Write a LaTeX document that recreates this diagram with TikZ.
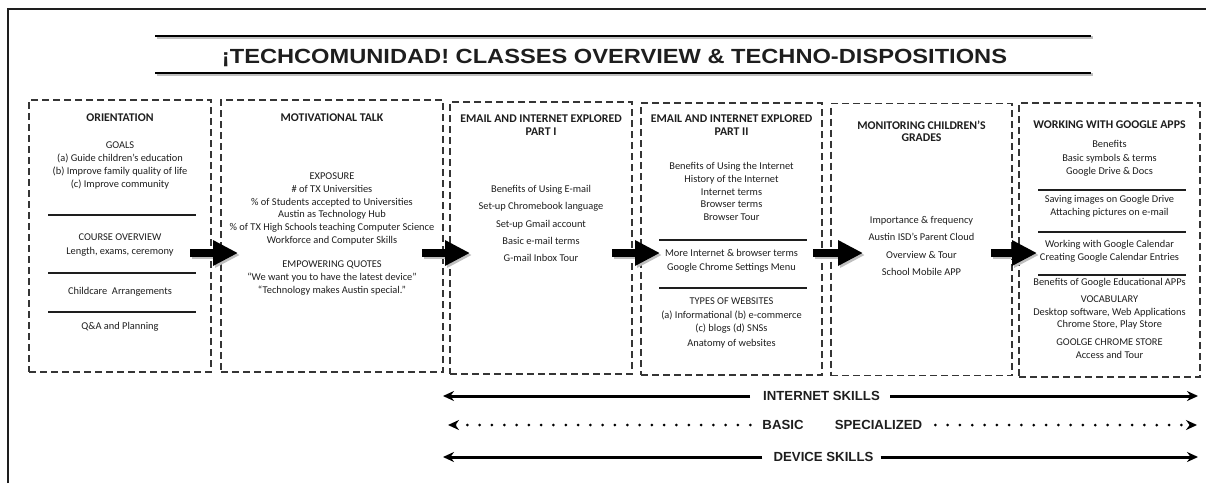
\documentclass[tikz,border=0pt]{standalone}
\usepackage{fontspec}
\usepackage{graphicx}
\setmainfont{Carlito}
\newfontfamily\arialf{Liberation Sans}
\usetikzlibrary{arrows.meta,calc}
\definecolor{ink}{HTML}{1E1E1E}
\begin{document}
\begin{tikzpicture}[x=1pt,y=-1pt,
  dbox/.style={draw=ink!90,line width=1.2pt,dash pattern=on 7pt off 4pt,minimum height=272pt,inner sep=0pt},
  body/.style={inner sep=0pt,align=center,text=ink,font=\fontsize{10.4}{12.8}\selectfont},
  wide/.style={inner sep=0pt,align=center,text=ink,font=\fontsize{10.4}{17.3}\selectfont},
  hd/.style={inner sep=0pt,align=center,text=ink,font=\fontsize{11.8}{13}\selectfont\bfseries},
  sepline/.style={draw=ink,line width=1.3pt},
  blockarrow/.style={draw=black,line width=8pt,-{Triangle[length=25pt,width=24pt]}},
  blockshadow/.style={draw=black!25,line width=8pt,-{Triangle[length=25pt,width=24pt]}},
  skill/.style={inner sep=0pt,text depth=0pt,text=ink,font=\arialf\bfseries\fontsize{13.2}{14}\selectfont},
  skillarrow/.style={draw=black,line width=3pt,-{Stealth[length=11pt,width=10pt]}},
  dotarrow/.style={draw=black,line width=3pt,line cap=round,dash pattern=on 0pt off 12.3pt,-{Stealth[length=11pt,width=10pt]}}
]
\useasboundingbox (0,0) rectangle (1206,483);
% outer frame
\draw[line width=1.5pt,draw=ink] (8,483) -- (8,9) -- (1206,9);
% title
\draw[line width=2.6pt,draw=black!25] (156.5,37.5) -- (1092.5,37.5);
\draw[line width=2.6pt,draw=black!25] (156.5,74.5) -- (1092.5,74.5);
\draw[line width=2.6pt] (155,36) -- (1091,36);
\draw[line width=2.6pt] (155,73) -- (1091,73);
\node[anchor=base,inner sep=0pt,text=ink] (title) at (614.5,63)
  {\resizebox{785pt}{14.3pt}{\arialf\bfseries ¡TECHCOMUNIDAD! CLASSES OVERVIEW \& TECHNO-DISPOSITIONS}};

% boxes
\node[dbox,minimum width=182pt] (b1) at (120,236) {};
\node[dbox,minimum width=222pt] (b2) at (332,236) {};
\node[dbox,minimum width=182pt] (b3) at (541,238) {};
\node[dbox,minimum width=181pt] (b4) at (731.5,239) {};
\node[dbox,minimum width=181pt] (b5) at (921.5,239.5) {};
\node[dbox,minimum width=181pt,minimum height=274pt] (b6) at (1109.5,240) {};

% box 1
\node[hd] (t1) at (120,118) {ORIENTATION};
\node[body] (g1) at (120,165.5) {GOALS\\(a) Guide children’s education\\(b) Improve family quality of life\\(c) Improve community};
\draw[sepline] (48,215) -- (196,215);
\node[body,font=\fontsize{10.4}{14}\selectfont] (c1) at (120,245) {COURSE OVERVIEW\\Length, exams, ceremony};
\draw[sepline] (48,273) -- (196,273);
\node[body] (ch1) at (120,292) {Childcare\ \ Arrangements};
\draw[sepline] (48,312) -- (196,312);
\node[body] (q1) at (120,327) {Q\&A and Planning};

% box 2
\node[hd] (t2) at (332,118) {MOTIVATIONAL TALK};
\node[body] (e2) at (332,209) {EXPOSURE\\\# of TX Universities\\\% of Students accepted to Universities\\Austin as Technology Hub\\\% of TX High Schools teaching Computer Science\\Workforce and Computer Skills};
\node[body,font=\fontsize{10.4}{13}\selectfont] (q2) at (332,278) {EMPOWERING QUOTES\\“We want you to have the latest device”\\“Technology makes Austin special.”};

% box 3
\node[hd] (t3) at (541,125.5) {EMAIL AND INTERNET EXPLORED\\PART I};
\node[wide] (l3) at (541,223.5) {Benefits of Using E-mail\\Set-up Chromebook language\\Set-up Gmail account\\Basic e-mail terms\\G-mail Inbox Tour};

% box 4
\node[hd] (t4) at (731.5,125.5) {EMAIL AND INTERNET EXPLORED\\PART II};
\node[body,font=\fontsize{10.4}{12.75}\selectfont] (l4) at (731.5,191.5) {Benefits of Using the Internet\\History of the Internet\\Internet terms\\Browser terms\\Browser Tour};
\draw[sepline] (659,240) -- (807,240);
\node[body,font=\fontsize{10.4}{14}\selectfont] (m4) at (731.5,261) {More Internet \& browser terms\\Google Chrome Settings Menu};
\draw[sepline] (659,288) -- (807,288);
\node[body,font=\fontsize{10.4}{13.5}\selectfont] (w4) at (731.5,323) {TYPES OF WEBSITES\\(a) Informational (b) e-commerce\\(c) blogs (d) SNSs\\[1.5pt]Anatomy of websites};

% box 5
\node[hd,font=\fontsize{11.8}{12}\selectfont\bfseries] (t5) at (921.5,131) {MONITORING CHILDREN’S\\GRADES};
\node[wide] (l5) at (921.5,246) {Importance \& frequency\\Austin ISD’s Parent Cloud\\Overview \& Tour\\School Mobile APP};

% box 6
\node[hd] (t6) at (1109.5,125) {WORKING WITH GOOGLE APPS};
\node[body,font=\fontsize{10.4}{13.5}\selectfont] (l6a) at (1109.5,158.5) {Benefits\\Basic symbols \& terms\\Google Drive \& Docs};
\draw[sepline] (1038,190) -- (1186,190);
\node[body] (l6b) at (1109.5,206.5) {Saving images on Google Drive\\Attaching pictures on e-mail};
\draw[sepline] (1038,232) -- (1186,232);
\node[body] (l6c) at (1109.5,251.5) {Working with Google Calendar\\Creating Google Calendar Entries};
\draw[sepline] (1038,275) -- (1186,275);
\node[body] (l6d) at (1109.5,283) {Benefits of Google Educational APPs};
\node[body,font=\fontsize{10.4}{12.5}\selectfont] (l6e) at (1109.5,312.5) {VOCABULARY\\Desktop software, Web Applications\\Chrome Store, Play Store};
\node[body,font=\fontsize{10.4}{13}\selectfont] (l6f) at (1109.5,348.5) {GOOLGE CHROME STORE\\Access and Tour};

% block arrows
\coordinate (a1s) at (190,253); \coordinate (a1e) at (238,253);
\coordinate (a2s) at (422,253); \coordinate (a2e) at (470,253);
\coordinate (a3s) at (612,253); \coordinate (a3e) at (660,253);
\coordinate (a4s) at (813,253); \coordinate (a4e) at (863,253);
\coordinate (a5s) at (991,253); \coordinate (a5e) at (1037,253);
\foreach \i in {1,...,5} {
  \draw[blockshadow] ([shift={(2,2)}]a\i s) -- ([shift={(2,2)}]a\i e);
  \draw[blockarrow] (a\i s) -- (a\i e);}

% skill arrows
\node[skill] (is) at (821.5,396) {INTERNET SKILLS};
\coordinate (isL) at (443,396); \coordinate (isR) at (1198,396);
\draw[skillarrow] ([xshift=-13pt]is.west) -- (isL);
\draw[skillarrow] ([xshift=10pt]is.east) -- (isR);

\node[skill] (bs) at (783,425) {BASIC};
\node[skill] (sp) at (878.5,425) {SPECIALIZED};
\coordinate (bsL) at (448,425); \coordinate (spR) at (1197,425);
\draw[dotarrow] ([xshift=-12pt]bs.west) -- (bsL);
\draw[dotarrow] ([xshift=13pt]sp.east) -- (spR);

\node[skill] (ds) at (823.5,457) {DEVICE SKILLS};
\coordinate (dsL) at (443,457); \coordinate (dsR) at (1198,457);
\draw[skillarrow] ([xshift=-11pt]ds.west) -- (dsL);
\draw[skillarrow] ([xshift=7pt]ds.east) -- (dsR);
\end{tikzpicture}
\end{document}
